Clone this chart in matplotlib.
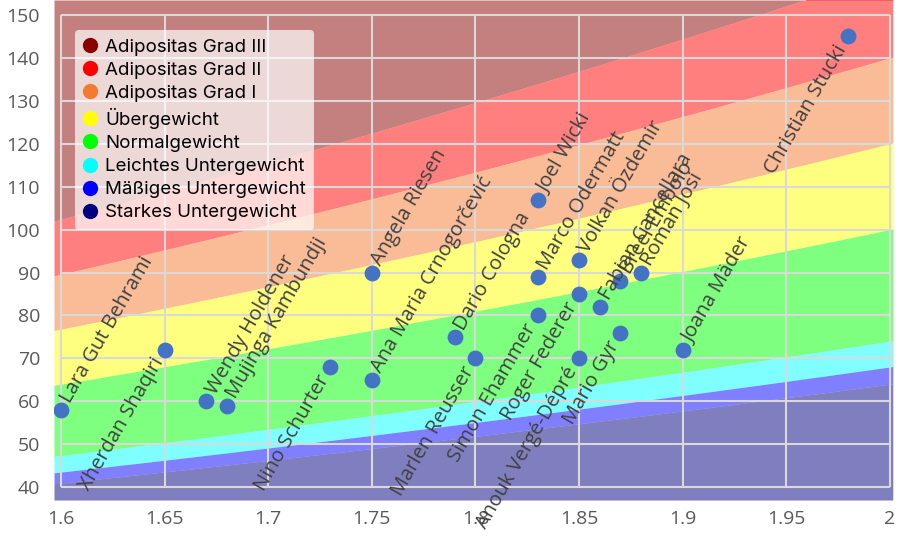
import numpy as np
import matplotlib
matplotlib.use("Agg")
import matplotlib.pyplot as plt
from matplotlib.lines import Line2D

# BMI classes, top to bottom (as in the legend)
categories = [
    "Adipositas Grad III", "Adipositas Grad II", "Adipositas Grad I", "Übergewicht",
    "Normalgewicht", "Leichtes Untergewicht", "Mäßiges Untergewicht", "Starkes Untergewicht",
]
cat_colors = ["#8b0000", "#ff0000", "#f47a30", "#ffff00", "#00ff00", "#00ffff", "#0000ff", "#000080"]
# BMI boundaries between the classes above (descending)
bmi_limits = [40, 35, 30, 25, 18.5, 17, 16]

athletes = [
    "Lara Gut Behrami", "Xherdan Shaqiri", "Wendy Holdener", "Mujinga Kambundji",
    "Nino Schurter", "Ana Maria Crnogorčević", "Angela Riesen", "Dario Cologna",
    "Marlen Reusser", "Simon Ehammer", "Marco Odermatt", "Joel Wicki",
    "Volkan Özdemir", "Roger Federer", "Anouk Vergé-Dépré", "Fabian Cancellara",
    "Breel Embolo", "Mario Gyr", "Roman Josi", "Joana Mäder", "Christian Stucki",
]
height_m = [1.60, 1.65, 1.67, 1.68, 1.73, 1.75, 1.75, 1.79, 1.80, 1.83, 1.83, 1.83,
            1.85, 1.85, 1.85, 1.86, 1.87, 1.87, 1.88, 1.90, 1.98]
weight_kg = [58, 72, 60, 59, 68, 65, 90, 75, 70, 80, 89, 107,
             93, 85, 70, 82, 88, 76, 90, 72, 145]
# label sits after the point ("start") or ends just before it ("end")
label_side = ["start", "end", "start", "start", "end", "start", "start", "start",
              "end", "end", "start", "start", "start", "end", "end", "start",
              "start", "end", "start", "start", "end"]

xticks = [1.6, 1.65, 1.7, 1.75, 1.8, 1.85, 1.9, 1.95, 2.0]
yticks = list(range(40, 151, 10))

XMIN, XMAX = 1.5966, 2.0015
YMIN, YMAX = 37.0, 153.5

fig = plt.figure(figsize=(9, 5.4), dpi=100)
ax = fig.add_axes([0.06, 0.074, 0.932, 0.926])

# colour bands
h = np.linspace(XMIN, XMAX, 200)
bounds = [np.full_like(h, YMAX)] + [b * h ** 2 for b in bmi_limits] + [np.full_like(h, YMIN)]
for i, col in enumerate(cat_colors):
    ax.fill_between(h, bounds[i + 1], bounds[i], color=col, alpha=0.5, lw=0, zorder=1)

# grid only over the data range
ax.hlines(yticks, xticks[0], xticks[-1], color="#d9d9d9", lw=1.5, zorder=2)
ax.vlines(xticks, yticks[0], yticks[-1], color="#d9d9d9", lw=1.5, zorder=2)

ax.scatter(height_m, weight_kg, s=130, color="#4472c4", zorder=4, linewidths=0)

ang = np.deg2rad(60)
for name, x, y, side in zip(athletes, height_m, weight_kg, label_side):
    if side == "start":
        d, ha = 7, "left"
    else:
        d, ha = -8, "right"
    ax.annotate(name, (x, y), xytext=(d * np.cos(ang), d * np.sin(ang)),
                textcoords="offset points", rotation=60, rotation_mode="anchor",
                ha=ha, va="center", fontsize=14.5, color="#404040",
                family="Open Sans", zorder=5)

ax.set_xlim(XMIN, XMAX)
ax.set_ylim(YMIN, YMAX)
ax.set_xticks(xticks)
ax.set_xticklabels([f"{v:g}" for v in xticks])
ax.set_yticks(yticks)
for s in ax.spines.values():
    s.set_visible(False)
ax.tick_params(length=0, labelsize=14, colors="#595959")
ax.tick_params(axis="y", pad=10)
ax.tick_params(axis="x", pad=7)
for lab in ax.get_xticklabels() + ax.get_yticklabels():
    lab.set_family("Open Sans")

handles = [Line2D([], [], ls="none", marker="o", markersize=11, color=c,
                  markeredgewidth=0) for c in cat_colors]
leg = ax.legend(handles, categories, loc="upper left", bbox_to_anchor=(0.025, 0.94),
                borderaxespad=0, frameon=True, fancybox=True, framealpha=0.7,
                edgecolor="none", facecolor="white", handlelength=0.75,
                handletextpad=0.4, labelspacing=0.32, borderpad=0.45,
                prop={"family": "Inter", "size": 13.5})
leg.set_zorder(6)

fig.savefig("out.png", dpi=100)
